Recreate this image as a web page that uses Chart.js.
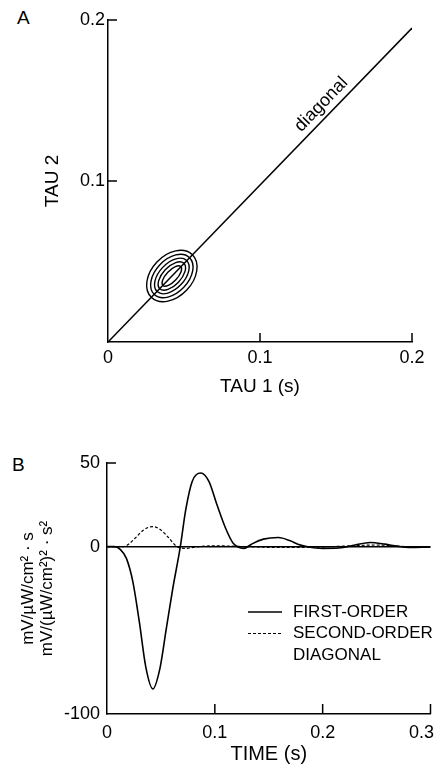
<!DOCTYPE html>
<html>
<head>
<meta charset="utf-8">
<script src="https://cdn.jsdelivr.net/npm/chart.js@4.4.0/dist/chart.umd.min.js"></script>
<style>
body { margin: 0; background: white; overflow: hidden; width: 435px; height: 766px; position: relative; font-family: "Liberation Sans", Arial, sans-serif; }
canvas { position: absolute; left: 0; }
#chartA { top: 0; }
#chartB { top: 400px; }
.panel { position: absolute; font-size: 19px; line-height: 19px; color: #000; }
</style>
</head>
<body>
<div class="panel" style="left:17px; top:8px">A</div>
<div class="panel" style="left:12px; top:455px">B</div>
<canvas id="chartA" width="435" height="400"></canvas>
<canvas id="chartB" width="460" height="366"></canvas>
<script>
// panel A: second-order kernel contour map
const tauTicks = [0, 0.1, 0.2]
const tauTickLabels = ["0", "0.1", "0.2"]
const diagonalTau1 = [0, 0.2]
const diagonalTau2 = [0, 0.195]
const diagonalText = "diagonal"
const contourCenter = [0.042, 0.041]
const contourAlong = [0.0189, 0.0163, 0.0137, 0.0112, 0.0083]
const contourAcross = [0.0131, 0.0105, 0.0080, 0.0058, 0.0035]

// panel B: kernels vs time
const timeTicks = [0, 0.1, 0.2, 0.3]
const timeTickLabels = ["0", "0.1", "0.2", "0.3\u2003"]   // last one sits left of its tick in the original
const kernelTicks = [-100, 0, 50]
const kernelTickLabels = ["-100", "0", "50"]
const firstOrderTime = [0, 0.007, 0.012, 0.018, 0.024, 0.030, 0.036, 0.0425, 0.049, 0.055, 0.061, 0.068, 0.073, 0.079, 0.087, 0.0945, 0.102, 0.110, 0.117, 0.121, 0.127, 0.134, 0.145, 0.159, 0.170, 0.177, 0.186, 0.200, 0.215, 0.230, 0.244, 0.258, 0.269, 0.280, 0.300]
const firstOrderValue = [0, 0, -1.5, -7, -21, -45, -72, -85, -73, -49, -25, 0, 22, 39, 44, 39, 25, 11, 2, 0, -1, 1.5, 4.5, 5.5, 3.5, 1.5, 0, -1, -0.8, 1, 2.5, 1.5, 0.3, -0.5, -0.3]
const secondOrderTime = [0, 0.015, 0.020, 0.026, 0.034, 0.0425, 0.050, 0.057, 0.065, 0.073, 0.085, 0.100, 0.130, 0.160, 0.190, 0.220, 0.250, 0.280, 0.300]
const secondOrderValue = [0, 0, 1.5, 5, 10, 12, 10, 5.5, 0, -1, 0, 0.5, 0, -0.5, -0.3, 0.3, 1, 0, 0]
const legendLabels = [["FIRST-ORDER"], ["SECOND-ORDER", "DIAGONAL"]]

var chartA
var chartB

Chart.defaults.font.family = '"Liberation Sans", Arial, sans-serif'
Chart.defaults.color = "#000"

function tickList(values){
    return function(scale){
        scale.ticks = values.map(v => ({ value: v }))
    }
}

function toPoints(xs, ys){
    return xs.map((x, i) => ({ x: x, y: ys[i] }))
}

// tick marks in the reference point into the plot, so draw them by hand
const inwardTicks = {
    id: "inwardTicks",
    afterDraw(chart, args, opts){
        const ctx = chart.ctx
        const xs = chart.scales.x
        const ys = chart.scales.y
        ctx.save()
        ctx.strokeStyle = "#000"
        ctx.lineWidth = 1.5
        ctx.beginPath()
        xs.ticks.forEach(t => {
            if (opts.skipX.includes(t.value)) return
            const px = xs.getPixelForValue(t.value)
            ctx.moveTo(px, xs.top)
            ctx.lineTo(px, xs.top - opts.xLength)
        })
        ys.ticks.forEach(t => {
            if (opts.skipY.includes(t.value)) return
            const py = ys.getPixelForValue(t.value)
            ctx.moveTo(ys.right, py)
            ctx.lineTo(ys.right + opts.yLength, py)
        })
        ctx.stroke()
        ctx.restore()
    }
}

const contourRings = {
    id: "contourRings",
    afterDatasetsDraw(chart){
        const xs = chart.scales.x
        const ys = chart.scales.y
        const ctx = chart.ctx
        const d = Math.SQRT1_2
        const cx = xs.getPixelForValue(contourCenter[0])
        const cy = ys.getPixelForValue(contourCenter[1])
        ctx.save()
        ctx.strokeStyle = "#000"
        ctx.lineWidth = 1.4
        for (var i in contourAlong){
            // semi-axis end points go through the scales, along and across the diagonal
            const ax = xs.getPixelForValue(contourCenter[0] + contourAlong[i] * d) - cx
            const ay = ys.getPixelForValue(contourCenter[1] + contourAlong[i] * d) - cy
            const bx = xs.getPixelForValue(contourCenter[0] - contourAcross[i] * d) - cx
            const by = ys.getPixelForValue(contourCenter[1] + contourAcross[i] * d) - cy
            ctx.beginPath()
            ctx.ellipse(cx, cy, Math.hypot(ax, ay), Math.hypot(bx, by), Math.atan2(ay, ax), 0, 2 * Math.PI)
            ctx.stroke()
        }
        ctx.restore()
    }
}

const diagonalLabel = {
    id: "diagonalLabel",
    afterDatasetsDraw(chart, args, opts){
        const xs = chart.scales.x
        const ys = chart.scales.y
        const ctx = chart.ctx
        const x0 = xs.getPixelForValue(diagonalTau1[0]), y0 = ys.getPixelForValue(diagonalTau2[0])
        const x1 = xs.getPixelForValue(diagonalTau1[1]), y1 = ys.getPixelForValue(diagonalTau2[1])
        ctx.save()
        ctx.translate(x0 + (x1 - x0) * opts.at, y0 + (y1 - y0) * opts.at)
        ctx.rotate(Math.atan2(y1 - y0, x1 - x0))
        ctx.font = opts.font
        ctx.fillStyle = "#000"
        ctx.textAlign = "center"
        ctx.textBaseline = "alphabetic"
        ctx.fillText(diagonalText, 0, -opts.gap)
        ctx.restore()
    }
}

const lineKey = {
    id: "lineKey",
    afterDraw(chart, args, opts){
        const ctx = chart.ctx
        ctx.save()
        ctx.font = opts.font
        ctx.fillStyle = "#000"
        ctx.strokeStyle = "#000"
        ctx.textBaseline = "middle"
        var row = 0
        chart.data.datasets.forEach((ds, i) => {
            const y = opts.top + row * opts.rowGap
            ctx.lineWidth = ds.borderWidth
            ctx.setLineDash(ds.borderDash || [])
            ctx.beginPath()
            ctx.moveTo(opts.lineLeft, y)
            ctx.lineTo(opts.lineRight, y)
            ctx.stroke()
            legendLabels[i].forEach(txt => {
                ctx.fillText(txt, opts.textLeft, opts.top + row * opts.rowGap)
                row++
            })
        })
        ctx.restore()
    }
}

function setUp(){
    chartA = new Chart(document.getElementById("chartA"), {
        type: "line",
        data: {
            datasets: [{
                data: toPoints(diagonalTau1, diagonalTau2),
                borderColor: "#000",
                borderWidth: 1.5,
                pointRadius: 0
            }]
        },
        options: {
            responsive: false,
            animation: false,
            events: [],
            layout: { padding: { top: 20, right: 23, left: 0, bottom: 0 } },
            plugins: {
                legend: { display: false },
                tooltip: { enabled: false },
                inwardTicks: { skipX: [0], skipY: [0], xLength: 9, yLength: 9 },
                diagonalLabel: { at: 0.73, gap: 7, font: '18px "Liberation Sans", Arial, sans-serif' }
            },
            scales: {
                x: {
                    type: "linear",
                    min: 0,
                    max: 0.2,
                    afterBuildTicks: tickList(tauTicks),
                    afterFit: s => { s.height = 58 },
                    grid: { color: "transparent", drawTicks: false },
                    border: { display: true, color: "#000", width: 1.5 },
                    ticks: { padding: 5, font: { size: 18 }, maxRotation: 0, autoSkip: false, callback: (v, i) => tauTickLabels[i] },
                    title: { display: true, text: "TAU 1 (s)", font: { size: 19 }, padding: { top: 0, bottom: 2 } }
                },
                y: {
                    type: "linear",
                    min: 0,
                    max: 0.2,
                    afterBuildTicks: tickList(tauTicks),
                    afterFit: s => { s.width = 108 },
                    grid: { color: "transparent", drawTicks: false },
                    border: { display: true, color: "#000", width: 1.5 },
                    ticks: { padding: 3, font: { size: 18 }, autoSkip: false, callback: (v, i) => i == 0 ? "" : tauTickLabels[i] },
                    title: { display: true, text: "TAU 2", font: { size: 19 }, padding: { top: 41, bottom: 0 } }
                }
            }
        },
        plugins: [inwardTicks, contourRings, diagonalLabel]
    })

    chartB = new Chart(document.getElementById("chartB"), {
        type: "line",
        data: {
            datasets: [{
                label: legendLabels[0].join(" "),
                data: toPoints(firstOrderTime, firstOrderValue),
                borderColor: "#000",
                borderWidth: 1.6,
                pointRadius: 0,
                cubicInterpolationMode: "monotone"
            }, {
                label: legendLabels[1].join(" "),
                data: toPoints(secondOrderTime, secondOrderValue),
                borderColor: "#000",
                borderWidth: 1.2,
                borderDash: [3, 2],
                pointRadius: 0,
                cubicInterpolationMode: "monotone"
            }]
        },
        options: {
            responsive: false,
            animation: false,
            events: [],
            layout: { padding: { top: 63, right: 27, left: 0, bottom: 0 } },
            plugins: {
                legend: { display: false },
                tooltip: { enabled: false },
                inwardTicks: { skipX: [0], skipY: [0, -100], xLength: 10, yLength: 9 },
                lineKey: { top: 212, rowGap: 21.5, lineLeft: 248, lineRight: 282, textLeft: 293, font: '17px "Liberation Sans", Arial, sans-serif' }
            },
            scales: {
                x: {
                    type: "linear",
                    min: 0,
                    max: 0.3,
                    afterBuildTicks: tickList(timeTicks),
                    afterFit: s => { s.height = 52 },
                    grid: { color: "transparent", drawTicks: false },
                    border: { display: true, color: "#000", width: 1.5 },
                    ticks: { padding: 8, font: { size: 18 }, maxRotation: 0, autoSkip: false, callback: (v, i) => timeTickLabels[i] },
                    title: { display: true, text: "TIME (s)", font: { size: 20 }, padding: { top: 0, bottom: 0 } }
                },
                y: {
                    type: "linear",
                    min: -100,
                    max: 50,
                    afterBuildTicks: tickList(kernelTicks),
                    afterFit: s => { s.width = 107 },
                    // only the zero line is drawn across the plot
                    grid: { drawTicks: false, lineWidth: 1.5, color: c => c.tick && c.tick.value === 0 ? "#000" : "transparent" },
                    border: { display: true, color: "#000", width: 1.5 },
                    ticks: { padding: 7, font: { size: 18 }, autoSkip: false, callback: (v, i) => kernelTickLabels[i] },
                    title: {
                        display: true,
                        text: ["mV/µW/cm² · s", "mV/(µW/cm²)² · s²"],
                        font: { size: 17, lineHeight: 1.1 },
                        padding: { top: 19, bottom: 0 }
                    }
                }
            }
        },
        plugins: [inwardTicks, lineKey]
    })
}

setUp()
</script>
</body>
</html>
